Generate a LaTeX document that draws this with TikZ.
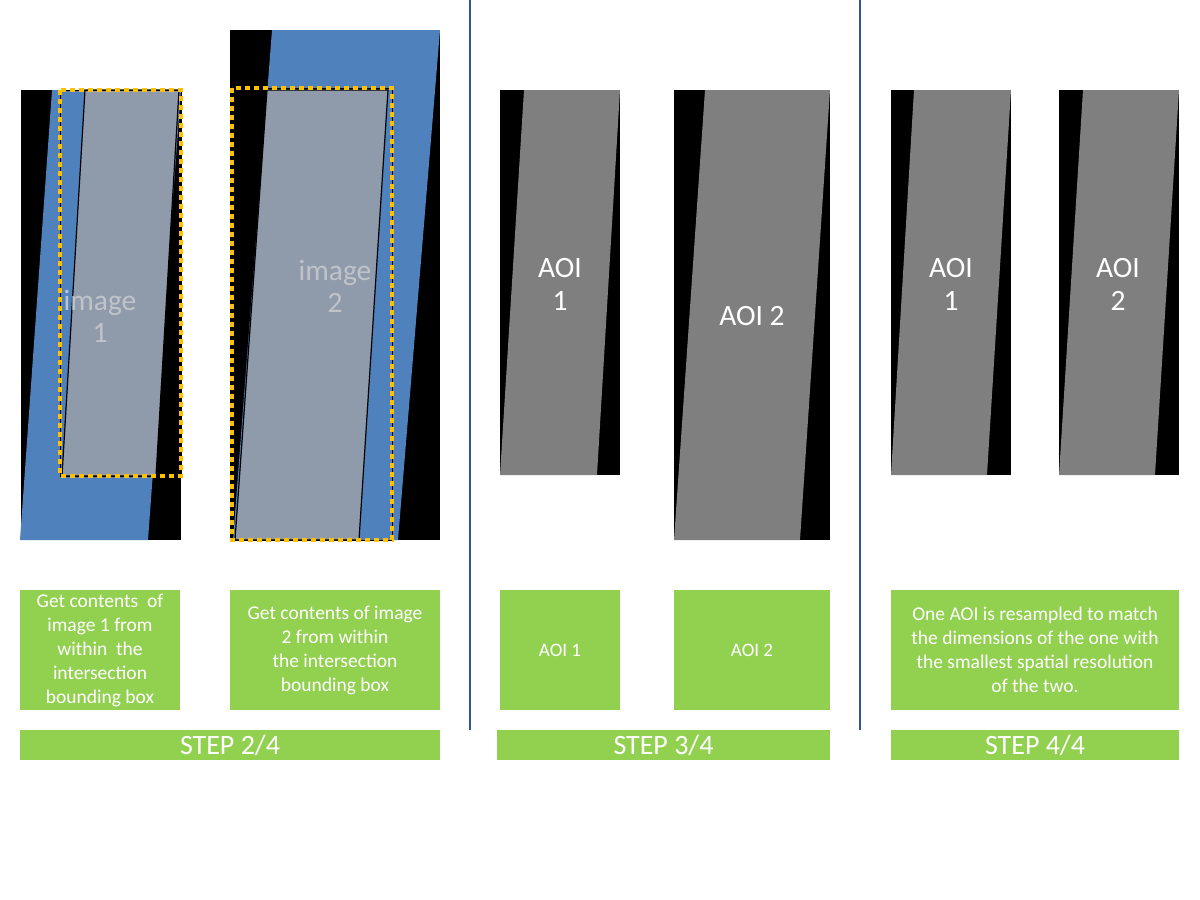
\documentclass[tikz,border=0pt]{standalone}
\usepackage{fontspec}
\setmainfont{Carlito}
\definecolor{gblue}{HTML}{4F81BD}
\definecolor{ggray}{HTML}{8F9BAA}
\definecolor{aoigray}{HTML}{7F7F7F}
\definecolor{gorange}{HTML}{FFC000}
\definecolor{ggreen}{HTML}{92D050}
\definecolor{sepblue}{HTML}{2F5597}
\definecolor{imgtxt}{HTML}{C0C4CA}
\tikzset{
  greenbox/.style={fill=ggreen, draw=none, inner sep=0pt, text=white, align=center},
  stepbar/.style={fill=ggreen, draw=none, inner sep=0pt, text=white, font=\fontsize{28}{30}\selectfont},
  boxtxt/.style={font=\fontsize{19.5}{24}\selectfont},
  aoitxt/.style={text=white, align=center, font=\fontsize{29.5}{33}\selectfont},
  imgtext/.style={text=imgtxt, align=center, font=\fontsize{29.5}{32}\selectfont},
  bbox/.style={draw=black, line width=1pt},
  bboxdots/.style={draw=gorange, line width=4pt, dash pattern=on 5pt off 4pt},
  sepline/.style={draw=sepblue, line width=2pt}
}
\begin{document}
\begin{tikzpicture}[x=1pt,y=-1pt]
\useasboundingbox (0,0) rectangle (1200,900);
\fill[white] (0,0) rectangle (1200,900);

% ---------- Panel 1: image 1 ----------
\fill[black] (21,90) rectangle (181,540);
\fill[gblue] (52,90) -- (181,90) -- (148,540) -- (20,540) -- cycle;
\filldraw[fill=ggray, draw=black, line width=1.2pt] (85,90) -- (179,90) -- (156,476) -- (62,476) -- cycle;
\draw[bbox] (60,90) rectangle (181,476);
\draw[bboxdots] (60,90) rectangle (181,476);
\node[imgtext] (img1) at (100,316) {image\\1};

% ---------- Panel 2: image 2 ----------
\fill[black] (230,30) rectangle (440,540);
\fill[gblue] (272,30) -- (440,30) -- (398,540) -- (233,540) -- cycle;
\filldraw[fill=ggray, draw=black, line width=1.2pt] (267,90) -- (388,90) -- (359,540) -- (235,540) -- cycle;
\draw[bbox] (232,88) rectangle (392,540);
\draw[bboxdots] (232,88) rectangle (392,540);
\node[imgtext] (img2) at (335,286) {image\\2};

% ---------- Separators ----------
\coordinate (s1t) at (470,0);
\coordinate (s1b) at (470,730);
\coordinate (s2t) at (860,0);
\coordinate (s2b) at (860,730);
\draw[sepline] (s1t) -- (s1b);
\draw[sepline] (s2t) -- (s2b);

% ---------- Panel 3 ----------
\fill[black] (500,90) rectangle (620,475);
\fill[aoigray] (524,90) -- (620,90) -- (597,475) -- (500,475) -- cycle;
\node[aoitxt] (a31) at (560,284) {AOI\\1};

\fill[black] (674,90) rectangle (830,540);
\fill[aoigray] (705,90) -- (830,90) -- (800,540) -- (674,540) -- cycle;
\node[aoitxt] (a32) at (752,316) {AOI 2};

% ---------- Panel 4 ----------
\fill[black] (891,90) rectangle (1011,475);
\fill[aoigray] (914,90) -- (1011,90) -- (987,475) -- (891,475) -- cycle;
\node[aoitxt] (a41) at (951,284) {AOI\\1};

\fill[black] (1059,90) rectangle (1179,475);
\fill[aoigray] (1083,90) -- (1179,90) -- (1155,475) -- (1059,475) -- cycle;
\node[aoitxt] (a42) at (1118,284) {AOI\\2};

% ---------- Green description boxes ----------
\node[greenbox, boxtxt, minimum width=160pt, minimum height=120pt] (d1) at (100,650)
  {Get contents~ of\\image 1 from\\within~ the\\intersection\\bounding box};
\node[greenbox, boxtxt, minimum width=210pt, minimum height=120pt] (d2) at (335,650)
  {Get contents of image\\2 from within\\the intersection\\bounding box};
\node[greenbox, font=\fontsize{19}{22}\selectfont, minimum width=120pt, minimum height=120pt] (d3) at (560,650) {AOI 1};
\node[greenbox, font=\fontsize{19}{22}\selectfont, minimum width=156pt, minimum height=120pt] (d4) at (752,650) {AOI 2};
\node[greenbox, boxtxt, minimum width=288pt, minimum height=120pt] (d5) at (1035,650)
  {One AOI is resampled to match\\the dimensions of the one with\\the smallest spatial resolution\\of the two.};

% ---------- Step bars ----------
\node[stepbar, minimum width=420pt, minimum height=30pt] (st2) at (230,745) {STEP 2/4};
\node[stepbar, minimum width=333pt, minimum height=30pt] (st3) at (663.5,745) {STEP 3/4};
\node[stepbar, minimum width=288pt, minimum height=30pt] (st4) at (1035,745) {STEP 4/4};
\end{tikzpicture}
\end{document}
